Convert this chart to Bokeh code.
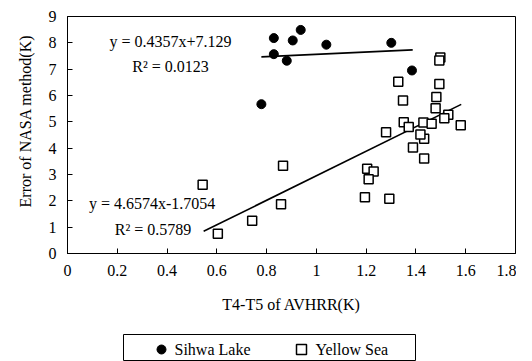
from bokeh.plotting import figure
from bokeh.models import Range1d, FixedTicker, Label, Spacer
from bokeh.core.properties import value
from bokeh.layouts import column, row
from bokeh.embed import file_html
from bokeh.resources import INLINE

# ---- data ----
sihwa_x = [0.829, 0.905, 0.937, 1.040, 1.301, 0.829, 0.881, 1.384, 0.779]
sihwa_y = [8.18, 8.09, 8.49, 7.93, 8.00, 7.57, 7.32, 6.95, 5.67]

yellow_x = [0.543, 0.604, 0.742, 0.858, 0.866, 1.204, 1.230, 1.210, 1.195, 1.293,
            1.280, 1.388, 1.433, 1.433, 1.418, 1.580, 1.351, 1.371, 1.430, 1.463,
            1.498, 1.494, 1.329, 1.494, 1.348, 1.482, 1.479, 1.530, 1.514]
yellow_y = [2.61, 0.75, 1.24, 1.87, 3.33, 3.22, 3.11, 2.82, 2.14, 2.08,
            4.60, 4.03, 3.61, 4.36, 4.52, 4.87, 4.98, 4.80, 4.97, 4.93,
            7.44, 7.33, 6.52, 6.44, 5.81, 5.94, 5.52, 5.27, 5.14]

sihwa_slope, sihwa_icpt = 0.4357, 7.129
sihwa_fit_x = [0.779, 1.387]
yellow_slope, yellow_icpt = 4.6574, -1.7054
yellow_fit_x = [0.547, 1.582]

x_ticks = [0, 0.2, 0.4, 0.6, 0.8, 1.0, 1.2, 1.4, 1.6, 1.8]
x_tick_labels = ["0", "0.2", "0.4", "0.6", "0.8", "1", "1.2", "1.4", "1.6", "1.8"]
y_ticks = [0, 1, 2, 3, 4, 5, 6, 7, 8, 9]
y_tick_labels = ["0", "1", "2", "3", "4", "5", "6", "7", "8", "9"]

series_names = ["Sihwa Lake", "Yellow Sea"]
sihwa_eq = "y = 0.4357x+7.129"
sihwa_r2 = "R\u00b2 = 0.0123"
yellow_eq = "y = 4.6574x-1.7054"
yellow_r2 = "R\u00b2 = 0.5789"

FONT = "Liberation Serif"

p = figure(frame_width=448, frame_height=237,
           min_border_left=67, min_border_right=1, min_border_top=16, min_border_bottom=80,
           x_range=Range1d(0, 1.8), y_range=Range1d(0, 9),
           output_backend="svg", toolbar_location=None)
p.grid.visible = False
p.outline_line_color = "black"
p.outline_line_alpha = 1
p.background_fill_color = "white"
p.border_fill_color = "white"

p.xaxis.ticker = FixedTicker(ticks=x_ticks)
p.xaxis.major_label_overrides = dict(zip(x_ticks, x_tick_labels))
p.yaxis.ticker = FixedTicker(ticks=y_ticks)
p.yaxis.major_label_overrides = dict(zip(y_ticks, y_tick_labels))

for ax in (p.xaxis, p.yaxis):
    ax.major_tick_in = 5
    ax.major_tick_out = 0
    ax.minor_tick_line_color = None
    ax.axis_line_color = "black"
    ax.major_tick_line_color = "black"
    ax.major_label_text_font = FONT
    ax.major_label_text_font_size = "16px"
    ax.major_label_text_color = "black"
    ax.axis_label_text_font = FONT
    ax.axis_label_text_font_size = "16px"
    ax.axis_label_text_font_style = "normal"
    ax.axis_label_text_color = "black"

p.xaxis.axis_label = "T4-T5 of AVHRR(K)"
# leading no-break spaces move the rotated title up a little, as in the reference
p.yaxis.axis_label = "\u00a0" * 7 + "Error of NASA method(K)"
p.xaxis.major_label_standoff = 11
p.xaxis.axis_label_standoff = 17
p.yaxis.major_label_standoff = 11
p.yaxis.axis_label_standoff = 12

# regression lines
p.line(sihwa_fit_x, [sihwa_slope * x + sihwa_icpt for x in sihwa_fit_x],
       line_color="black", line_width=1.6)
p.line(yellow_fit_x, [yellow_slope * x + yellow_icpt for x in yellow_fit_x],
       line_color="black", line_width=1.6)

# points
p.scatter(sihwa_x, sihwa_y, marker="circle", size=9,
          fill_color="black", line_color="black")
p.scatter(yellow_x, yellow_y, marker="square", size=9,
          fill_color="white", line_color="black", line_width=1.5)

# equations
for txt, x, y in [(sihwa_eq, 0.414, 8.05), (sihwa_r2, 0.414, 7.10),
                  (yellow_eq, 0.340, 1.91), (yellow_r2, 0.344, 0.92)]:
    p.add_layout(Label(x=x, y=y, text=txt, text_font=FONT, text_font_size="16px",
                       text_align="center", text_baseline="middle", text_color="black"))

# legend box drawn as a small figure below the chart
p2 = figure(frame_width=292, frame_height=26, min_border=1,
            x_range=Range1d(0, 292), y_range=Range1d(0, 26),
            x_axis_type=None, y_axis_type=None,
            output_backend="svg", toolbar_location=None)
p2.grid.visible = False
p2.outline_line_color = "black"
p2.outline_line_alpha = 1
p2.scatter([38], [11], marker="circle", size=9, fill_color="black", line_color="black")
p2.scatter([178], [11], marker="square", size=10, fill_color="white",
           line_color="black", line_width=1.5)
p2.text([51, 192], [11, 11], text=series_names, text_font=value(FONT),
        text_font_size="16px", text_baseline="middle", text_align="left",
        text_color="black")

layout = column(p, row(Spacer(width=122, height=28), p2))

open("out.html", "w").write(file_html(layout, INLINE))
